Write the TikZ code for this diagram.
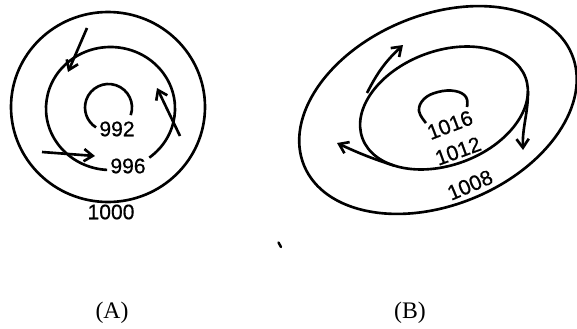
\documentclass[tikz,border=0pt]{standalone}
\usepackage{fontspec}
\setmainfont{Liberation Serif}
\newfontfamily\isofont[FakeBold=0.6]{Liberation Sans}
\usetikzlibrary{arrows.meta}
\begin{document}
\begin{tikzpicture}[x=0.02cm,y=0.02cm,
  contour/.style={line width=1.5pt},
  flow/.style={line width=1.5pt,-{Straight Barb[length=5pt,width=7pt,line width=1.5pt]}},
  isobar/.style={font=\isofont\fontsize{12}{14}\selectfont,inner sep=0.5pt},
  caption/.style={font=\fontsize{13.5}{16}\selectfont,inner sep=0pt}]
\useasboundingbox (0,0) rectangle (577,-328);

% ---- (A) cyclone: concentric isobars with inflowing winds
\coordinate (cA) at (110.5,-108.5);
\coordinate (cAi) at (108.5,-107.5);
\draw[contour] (108,-107) ellipse [x radius=97, y radius=95];
\draw[contour] (cA) ++(-53:64.5 and 61.5)
  arc[start angle=-53, end angle=267, x radius=64.5, y radius=61.5];
\draw[contour] (cAi) ++(-19:23.5) arc[start angle=-19, end angle=238, radius=23.5];

\node[isobar] (p992) at (117,-129) {992};
\node[isobar] (p996) at (128,-166) {996};
\node[isobar] (p1000) at (111,-212) {1000};

\coordinate (a1s) at (87,-28);   \coordinate (a1e) at (68,-72);
\coordinate (a2s) at (180,-136); \coordinate (a2e) at (157,-88);
\coordinate (a3s) at (42,-152);  \coordinate (a3e) at (95,-156);
\draw[flow] (a1s) -- (a1e);
\draw[flow] (a2s) -- (a2e);
\draw[flow] (a3s) -- (a3e);

% ---- (B) anticyclone: tilted elliptic isobars with outflowing winds
\coordinate (cB) at (438,-110);
\coordinate (cBm) at (444,-108);
\draw[contour,rotate around={22.6:(cB)}] (cB) ellipse [x radius=145, y radius=95];
\draw[contour,rotate around={20.5:(cBm)}] (cBm) ellipse [x radius=87, y radius=57];
\draw[contour] plot[smooth,tension=0.7] coordinates
  {(426,-123) (419,-111) (424,-99) (438,-92) (455,-91) (466,-97) (467,-107)};

\node[isobar,rotate=21] (p1016) at (450,-125) {1016};
\node[isobar,rotate=20] (p1012) at (458,-151) {1012};
\node[isobar,rotate=23] (p1008) at (470,-185) {1008};

\coordinate (b1s) at (367,-93);  \coordinate (b1e) at (403,-45);
\coordinate (b2s) at (394,-165.6); \coordinate (b2e) at (337,-143);
\coordinate (b3s) at (528,-91);  \coordinate (b3e) at (523,-150);
\draw[flow] (b1s) to[bend left=10] (b1e);
\draw[flow] (b2s) to[out=162,in=-25] (b2e);
\draw[flow] (b3s) to[out=-90,in=92] (b3e);

% small stray tick
\draw[line width=1.4pt,line cap=round] (278.5,-242.5) -- (281,-247);

% ---- captions
\node[caption] (capA) at (112,-313) {(A)};
\node[caption] (capB) at (410,-313) {(B)};
\end{tikzpicture}
\end{document}
